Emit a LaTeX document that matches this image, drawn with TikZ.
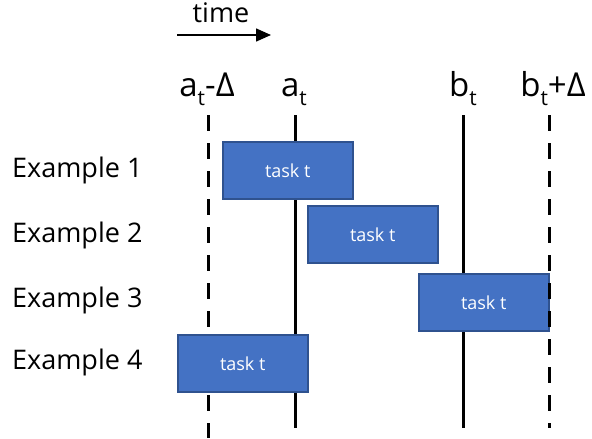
\documentclass[tikz,border=0pt]{standalone}
\usepackage{fontspec}
\setmainfont{Open Sans}[Ligatures=NoCommon]
\usetikzlibrary{arrows.meta}
\newcommand\subtee{\raisebox{-9pt}{\fontsize{21}{21}\selectfont t}}
\definecolor{taskfill}{HTML}{4472C4}
\definecolor{taskedge}{HTML}{2F528F}
\begin{document}
\begin{tikzpicture}[x=1pt,y=-1pt,
  taskbox/.style={draw=taskedge, line width=1.5pt, fill=taskfill, text=white,
    minimum width=130pt, minimum height=57pt, inner sep=0pt, anchor=north west,
    font=\fontsize{18}{22}\selectfont},
  exlabel/.style={anchor=west, inner sep=0pt, font=\fontsize{27}{32}\selectfont},
  timelabel/.style={anchor=base, inner sep=0pt, font=\fontsize{33}{36}\selectfont},
  solidline/.style={line width=3pt},
  dashline/.style={line width=3pt, dash pattern=on 16pt off 12pt},
]
\useasboundingbox (0,0) rectangle (592,439);
% time arrow
\node[anchor=base, inner sep=0pt, font=\fontsize{27}{32}\selectfont] (time) at (221,23) {time};
\coordinate (ts) at (177,35);
\coordinate (te) at (271,35);
\draw[line width=1.5pt, -{Triangle[length=15pt,width=13pt]}] (ts) -- (te);
% vertical lines
\coordinate (l1t) at (208,115); \coordinate (l1b) at (208,438);
\coordinate (l2t) at (295,115); \coordinate (l2b) at (295,428);
\coordinate (l3t) at (463,115); \coordinate (l3b) at (463,428);
\coordinate (l4t) at (549,115); \coordinate (l4b) at (549,428);
\draw[dashline] (l1t) -- (l1b);
\draw[solidline] (l2t) -- (l2b);
\draw[solidline] (l3t) -- (l3b);
% labels
\node[timelabel] (la) at (207,96) {a\subtee-Δ};
\node[timelabel] (lb) at (294,96) {a\subtee};
\node[timelabel] (lc) at (463,96) {b\subtee};
\node[timelabel] (ld) at (553,96) {b\subtee+Δ};
% boxes
\node[taskbox] (t1) at (222,141) {task t};
\node[taskbox] (t2) at (307,205) {task t};
\node[taskbox] (t3) at (418,273) {task t};
\node[taskbox] (t4) at (177,334) {task t};
\draw[dashline] (l4t) -- (l4b);
% example labels
\node[exlabel] (e1) at (12,170) {Example 1};
\node[exlabel] (e2) at (12,235) {Example 2};
\node[exlabel] (e3) at (12,300) {Example 3};
\node[exlabel] (e4) at (12,362) {Example 4};
\end{tikzpicture}
\end{document}
